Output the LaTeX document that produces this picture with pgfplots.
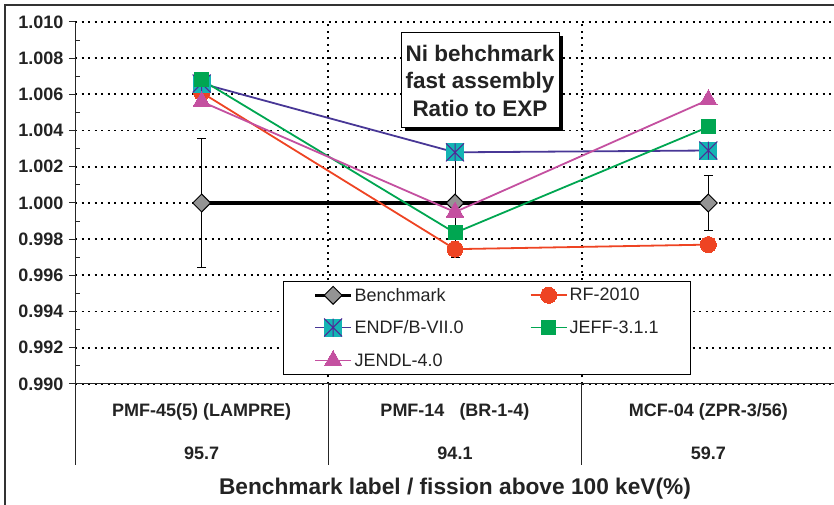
\documentclass[border=0pt]{standalone}
\usepackage{pgfplots}
\pgfplotsset{compat=1.18}
\usepackage{fontspec}
\setmainfont{Liberation Sans}

\definecolor{rfred}{RGB}{238,68,35}
\definecolor{endfline}{RGB}{72,55,150}
\definecolor{endffill}{RGB}{20,180,180}
\definecolor{endfstar}{RGB}{80,40,150}
\definecolor{jeffgreen}{RGB}{0,166,81}
\definecolor{jendlpink}{RGB}{196,80,160}
\definecolor{txt}{RGB}{35,35,35}

% teal square with purple asterisk (ENDF marker)
\pgfdeclareplotmark{sqast}{%
  \pgfpathrectangle{\pgfqpoint{-\pgfplotmarksize}{-\pgfplotmarksize}}{\pgfqpoint{2\pgfplotmarksize}{2\pgfplotmarksize}}%
  \pgfsetfillcolor{endffill}\pgfusepath{fill}%
  \pgfsetstrokecolor{endfstar}\pgfsetlinewidth{1pt}%
  \pgfpathmoveto{\pgfqpoint{0pt}{\pgfplotmarksize}}\pgfpathlineto{\pgfqpoint{0pt}{-\pgfplotmarksize}}%
  \pgfpathmoveto{\pgfqpoint{-\pgfplotmarksize}{\pgfplotmarksize}}\pgfpathlineto{\pgfqpoint{\pgfplotmarksize}{-\pgfplotmarksize}}%
  \pgfpathmoveto{\pgfqpoint{-\pgfplotmarksize}{-\pgfplotmarksize}}\pgfpathlineto{\pgfqpoint{\pgfplotmarksize}{\pgfplotmarksize}}%
  \pgfusepath{stroke}}

\begin{document}
\begin{tikzpicture}[x=1pt,y=1pt]
\useasboundingbox (0,0) rectangle (834,505);
\draw[line width=1.5pt, black!80] (5,-10) rectangle (845,500);

\begin{axis}[
  at={(75pt,121pt)}, anchor=south west,
  scale only axis, width=760pt, height=362pt,
  xmin=0, xmax=3, ymin=0.99, ymax=1.01,
  clip=false,
  axis x line*=bottom, axis y line*=left, axis line style={-, line width=1pt, black!85},
  xtick={1,2}, xticklabels={}, xtick style={draw=none},
  ytick={0.990,0.992,0.994,0.996,0.998,1.000,1.002,1.004,1.006,1.008,1.010},
  minor y tick num=1,
  tick align=outside, major tick length=6pt, minor tick length=5pt,
  ytick style={line width=1pt, black!85},
  minor y tick style={xshift=5pt, line width=1pt, black!85},
  yticklabel style={font=\bfseries\fontsize{18}{21}\selectfont, text=txt, xshift=-2pt,
    /pgf/number format/.cd, fixed, fixed zerofill, precision=3, assume math mode=true},
  grid=major,
  major grid style={black, line width=1.8pt, dash pattern=on 2pt off 4.5pt},
  legend columns=2,
  legend style={at={(0.2737,0.2845)}, anchor=north west, draw=black, line width=1pt,
    fill=white, font=\fontsize{18}{21}\selectfont, text=txt,
    inner xsep=30pt, inner ysep=4.5pt, row sep=13.5pt,
    /tikz/every even column/.append style={column sep=64pt}},
  legend cell align=left,
  legend image code/.code={\draw[mark repeat=2,mark phase=2] plot coordinates {(0pt,0pt)(18pt,0pt)(36pt,0pt)};},
]
\addplot[black, line width=3.2pt, mark=square*, mark size=6.3pt,
  mark options={rotate=45, fill=black!42, draw=black, line width=1pt},
  error bars/.cd, y dir=both, y explicit,
  error bar style={black, line width=1pt},
  error mark options={rotate=90, mark size=4.5pt, black, line width=1pt}]
  coordinates {(0.5,1.000) +- (0,0.00355) (1.5,1.000) +- (0,0.0030) (2.5,1.000) +- (0,0.0015)};
\addlegendentry{Benchmark}
\addplot[rfred, line width=1.8pt, mark=*, mark size=8pt, mark options={fill=rfred, draw=rfred, line width=0pt}]
  coordinates {(0.5,1.0061) (1.5,0.99745) (2.5,0.99770)};
\addlegendentry{RF-2010}
\addplot[endfline, line width=1.8pt, mark=sqast, mark size=9pt]
  coordinates {(0.5,1.0066) (1.5,1.0028) (2.5,1.0029)};
\addlegendentry{ENDF/B-VII.0}
\addplot[jeffgreen, line width=1.8pt, mark=square*, mark size=7pt, mark options={fill=jeffgreen, draw=jeffgreen, line width=0pt}]
  coordinates {(0.5,1.0068) (1.5,0.99835) (2.5,1.0042)};
\addlegendentry{JEFF-3.1.1\hspace{16pt}}
\addplot[jendlpink, line width=1.8pt, mark=triangle*, mark size=10pt, mark options={fill=jendlpink, draw=jendlpink, line width=0pt}]
  coordinates {(0.5,1.0056) (1.5,0.99950) (2.5,1.0057)};
\addlegendentry{JENDL-4.0}

% separators and labels below the axis
\draw[line width=1pt, black!85] (axis cs:0,0.99) -- ++(0pt,-81pt);
\draw[line width=1pt, black!85] (axis cs:1,0.99) -- ++(0pt,-81pt);
\draw[line width=1pt, black!85] (axis cs:2,0.99) -- ++(0pt,-81pt);
\node[font=\bfseries\fontsize{18}{21}\selectfont, text=txt] at ([yshift=-28pt]axis cs:0.5,0.99) {PMF-45(5) (LAMPRE)};
\node[font=\bfseries\fontsize{18}{21}\selectfont, text=txt] at ([yshift=-28pt]axis cs:1.5,0.99) {PMF-14\ \ \ (BR-1-4)};
\node[font=\bfseries\fontsize{18}{21}\selectfont, text=txt] at ([yshift=-28pt]axis cs:2.5,0.99) {MCF-04 (ZPR-3/56)};
\node[font=\bfseries\fontsize{18}{21}\selectfont, text=txt] at ([yshift=-69pt]axis cs:0.5,0.99) {95.7};
\node[font=\bfseries\fontsize{18}{21}\selectfont, text=txt] at ([yshift=-69pt]axis cs:1.5,0.99) {94.1};
\node[font=\bfseries\fontsize{18}{21}\selectfont, text=txt] at ([yshift=-69pt]axis cs:2.5,0.99) {59.7};
\node[font=\bfseries\fontsize{22.7}{26}\selectfont, text=txt] at ([yshift=-105pt]axis cs:1.5,0.99) {Benchmark label / fission above 100 keV(\%)};
\end{axis}

% annotation box with shadow
\fill[black] (405,374) rectangle (563,469);
\node[draw=black, line width=1pt, fill=white, minimum width=158pt, minimum height=95pt,
  inner sep=0pt, align=center, font=\bfseries\fontsize{22.5}{27.5}\selectfont, text=txt]
  at (480,424.5) {Ni behchmark\\fast assembly\\Ratio to EXP};
\end{tikzpicture}
\end{document}
